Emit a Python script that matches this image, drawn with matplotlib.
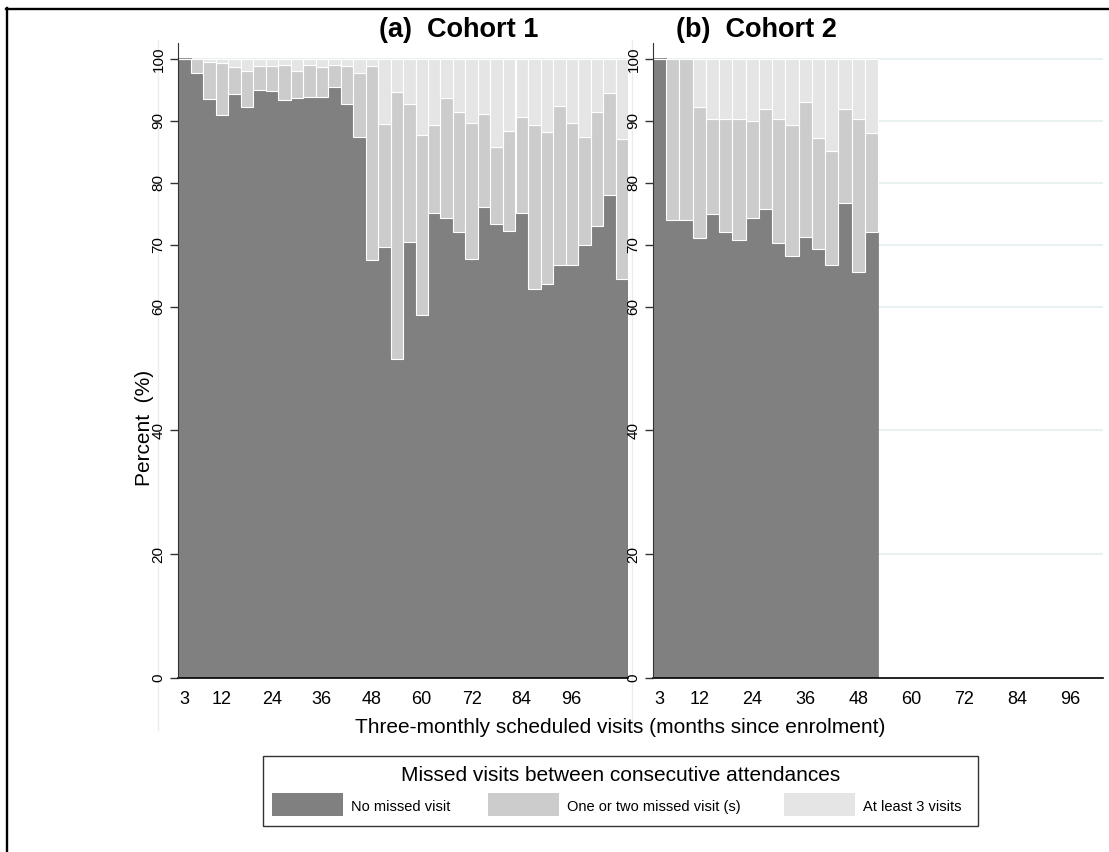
import matplotlib
matplotlib.use("Agg")
import matplotlib.pyplot as plt
from matplotlib.patches import Rectangle
from matplotlib.lines import Line2D

plt.rcParams['font.family'] = ['Liberation Sans', 'DejaVu Sans']

# three-monthly scheduled visits, months since enrolment
months_c1 = list(range(3, 109, 3))
months_c2 = list(range(3, 52, 3))

# cohort 1: percent of attendances by number of visits missed before them
no_missed_c1 = [100, 97.7, 93.5, 91.0, 94.3, 92.3, 95.0, 94.9, 93.4, 93.7, 93.9, 93.9,
                95.5, 92.8, 87.4, 67.5, 69.7, 51.5, 70.5, 58.6, 75.2, 74.4, 72.1, 67.7,
                76.1, 73.3, 72.3, 75.2, 62.8, 63.7, 66.7, 66.7, 69.9, 73.1, 78.1, 64.4]
one_two_c1 = [0, 2.3, 6.0, 8.4, 4.5, 5.8, 3.9, 4.0, 5.6, 4.4, 5.2, 4.8,
              3.5, 6.1, 10.3, 31.4, 19.8, 43.2, 22.3, 29.1, 14.1, 19.3, 19.4, 21.9,
              15.1, 12.5, 16.1, 15.5, 26.6, 24.6, 25.8, 23.0, 17.5, 18.3, 16.5, 22.7]
three_plus_c1 = [0, 0, 0.5, 0.6, 1.2, 1.9, 1.1, 1.1, 1.0, 1.9, 0.9, 1.3,
                 1.0, 1.1, 2.3, 1.1, 10.5, 5.3, 7.2, 12.3, 10.7, 6.3, 8.5, 10.4,
                 8.8, 14.2, 11.6, 9.3, 10.6, 11.7, 7.5, 10.3, 12.6, 8.6, 5.4, 12.9]

# cohort 2
no_missed_c2 = [100, 74.0, 74.0, 71.1, 74.9, 72.0, 70.8, 74.4, 75.7, 70.3, 68.2, 71.3,
                69.3, 66.8, 76.7, 65.6, 72.0]
one_two_c2 = [0, 26.0, 26.0, 21.2, 15.5, 18.4, 19.6, 15.6, 16.2, 20.0, 21.2, 21.8,
              18.0, 18.4, 15.3, 24.7, 16.0]
three_plus_c2 = [0, 0, 0, 7.7, 9.6, 9.6, 9.6, 10.0, 8.1, 9.7, 10.6, 6.9,
                 12.7, 14.8, 8.0, 9.7, 12.0]

xticks = [3, 12, 24, 36, 48, 60, 72, 84, 96]
yticks = [0, 20, 40, 60, 70, 80, 90, 100]
legend_labels = ['No missed visit', 'One or two missed visit (s)', 'At least 3 visits']
colors = ['#808080', '#cccccc', '#e5e5e5']

W, H = 1109, 852
fig = plt.figure(figsize=(W / 100, H / 100), dpi=100)


def fx(px):
    return px / W


def fy(py):
    return 1 - py / H


def draw_panel(left, months, dark, mid, light, xmax):
    ax = fig.add_axes([fx(left), fy(678), 450 / W, 635 / H])
    # dark bars get an edge in their own colour so neighbours join up
    ax.bar(months, dark, width=3, color=colors[0], edgecolor=colors[0], linewidth=1.3)
    ax.bar(months, mid, width=3, bottom=dark, color=colors[1],
           edgecolor='white', linewidth=0.8)
    tops = [d + m for d, m in zip(dark, mid)]
    ax.bar(months, light, width=3, bottom=tops, color=colors[2],
           edgecolor='white', linewidth=0.8)
    ax.set_xlim(1.5, xmax)
    ax.set_ylim(0, 102.6)
    ax.set_xticks(xticks)
    ax.set_yticks(yticks)
    ax.tick_params(axis='x', length=0, labelsize=13, pad=9)
    ax.tick_params(axis='y', length=6, width=1, color='#333333', labelsize=11,
                   labelrotation=90, pad=3)
    for lab in ax.get_yticklabels():
        lab.set_va('center')
    ax.yaxis.grid(True, color='#e6eff1', linewidth=1.3)
    ax.set_axisbelow(True)
    ax.spines['top'].set_visible(False)
    ax.spines['right'].set_visible(False)
    ax.spines['left'].set_color('#333333')
    ax.spines['left'].set_zorder(3)
    ax.spines['bottom'].set_color('black')
    ax.spines['bottom'].set_linewidth(1.2)
    return ax


ax_a = draw_panel(178, months_c1, no_missed_c1, one_two_c1, three_plus_c1, 109.5)
ax_b = draw_panel(653, months_c2, no_missed_c2, one_two_c2, three_plus_c2, 103.5)

# faint guides behind the y tick labels
for xp in (158, 632):
    fig.add_artist(Line2D([fx(xp), fx(xp)], [fy(40), fy(730)], color='#ececec',
                          linewidth=1, zorder=0))

fig.text(fx(459), fy(37), '(a)  Cohort 1', ha='center', va='baseline',
         fontsize=19.5, fontweight='bold')
fig.text(fx(756), fy(37), '(b)  Cohort 2', ha='center', va='baseline',
         fontsize=19.5, fontweight='bold')
fig.text(fx(620), fy(733), 'Three-monthly scheduled visits (months since enrolment)',
         ha='center', va='baseline', fontsize=15)
fig.text(fx(144), fy(428), 'Percent  (%)', rotation=90, ha='center', va='center',
         fontsize=15)

# legend box
fig.add_artist(Rectangle((fx(263), fy(826)), 715 / W, 70 / H, transform=fig.transFigure,
                         fill=False, edgecolor='#333333', linewidth=1))
fig.text(fx(620.5), fy(781), 'Missed visits between consecutive attendances',
         ha='center', va='baseline', fontsize=15)
for px, c, lab in zip([272, 488, 784], colors, legend_labels):
    fig.add_artist(Rectangle((fx(px), fy(816)), 71 / W, 23 / H,
                             transform=fig.transFigure, color=c, linewidth=0))
    fig.text(fx(px + 79), fy(811), lab, ha='left', va='baseline', fontsize=10.5)

# outer frame
fig.add_artist(Line2D([fx(6), 1], [fy(9), fy(9)], color='black', linewidth=1.7))
fig.add_artist(Line2D([fx(7), fx(7)], [fy(8), 0], color='black', linewidth=1.7))

fig.savefig('out.png', dpi=100, facecolor='white')
